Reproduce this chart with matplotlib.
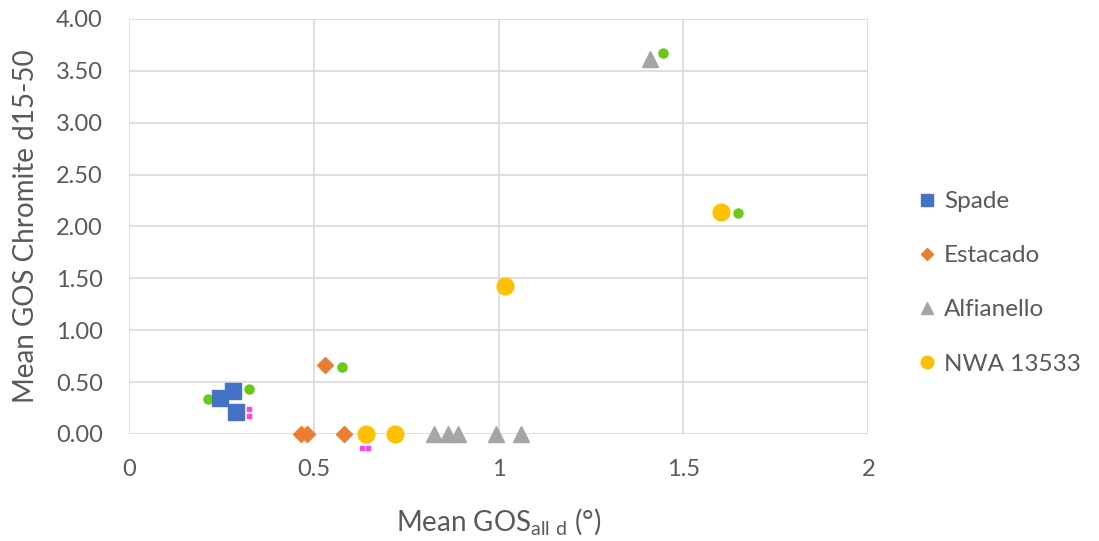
import matplotlib.pyplot as plt

plt.rcParams['font.family'] = ['Lato', 'DejaVu Sans']

# data
spade_x = [0.246, 0.281, 0.290]
spade_y = [0.35, 0.41, 0.21]
estacado_x = [0.530, 0.465, 0.482, 0.582]
estacado_y = [0.665, 0.0, 0.0, 0.0]
alfianello_x = [1.41, 0.825, 0.863, 0.890, 0.993, 1.060]
alfianello_y = [3.61, 0.0, 0.0, 0.0, 0.0, 0.0]
nwa_x = [0.640, 0.720, 1.017, 1.603]
nwa_y = [0.0, 0.0, 1.43, 2.14]
green_x = [0.214, 0.325, 0.576, 1.445, 1.648]
green_y = [0.34, 0.43, 0.645, 3.67, 2.13]
pink_x = [0.325, 0.325, 0.630, 0.647]
pink_y = [0.24, 0.17, -0.135, -0.135]

xticks = [0, 0.5, 1, 1.5, 2]
xticklabels = ['0', '0.5', '1', '1.5', '2']
yticks = [0, 0.5, 1, 1.5, 2, 2.5, 3, 3.5, 4]

fig = plt.figure(figsize=(10.99, 5.41), dpi=100)
ax = fig.add_axes([0.1174, 0.1978, 0.6726, 0.7672])

ax.plot(green_x, green_y, 'o', color='#66cc11', ms=6.5, ls='none', zorder=3, clip_on=False)
ax.plot(pink_x, pink_y, 's', color='#ff44ee', ms=2.8, ls='none', zorder=3, clip_on=False)
ax.plot(spade_x, spade_y, 's', color='#4472C4', ms=11, ls='none', label='Spade', zorder=4, clip_on=False)
ax.plot(estacado_x, estacado_y, 'D', color='#ED7D31', ms=8.5, ls='none', label='Estacado', zorder=4, clip_on=False)
ax.plot(alfianello_x, alfianello_y, '^', color='#A5A5A5', ms=11.5, ls='none', label='Alfianello', zorder=4, clip_on=False)
ax.plot(nwa_x, nwa_y, 'o', color='#FFC000', ms=12, ls='none', label='NWA 13533', zorder=4, clip_on=False)

ax.set_xlim(0, 2)
ax.set_ylim(0, 4)
ax.set_xticks(xticks)
ax.set_xticklabels(xticklabels)
ax.set_yticks(yticks)
ax.set_yticklabels(['%.2f' % v for v in yticks])
ax.grid(True, color='#d9d9d9', lw=1.2)
ax.set_axisbelow(True)
for s in ax.spines.values():
    s.set_visible(False)
ax.tick_params(length=0, labelsize=17, colors='#595959')
ax.tick_params(axis='y', pad=19)
ax.tick_params(axis='x', pad=18)

ax.set_xlabel(r'Mean GOS$_{\mathregular{all\ d}}$ (°)', fontsize=20, color='#595959', labelpad=19)
ax.set_ylabel('Mean GOS Chromite d15-50', fontsize=20, color='#595959', labelpad=12)

leg = ax.legend(loc='center left', bbox_to_anchor=(1.035, 0.364), frameon=False,
                fontsize=17.5, labelspacing=1.36, handletextpad=0.25, handlelength=0.9,
                markerscale=0.75)
for t in leg.get_texts():
    t.set_color('#595959')

fig.savefig('out.png', dpi=100)
